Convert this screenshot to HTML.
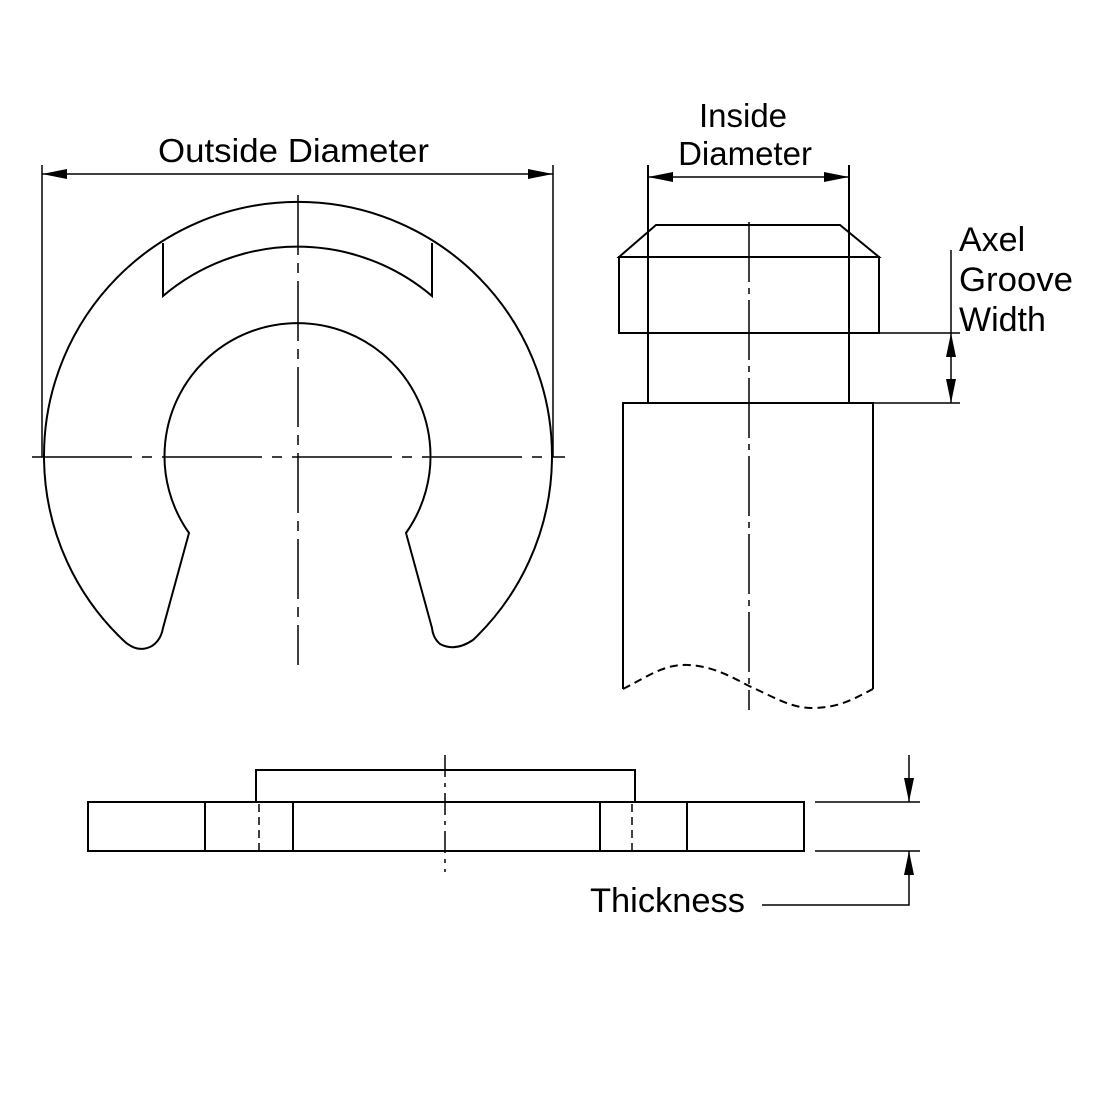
<!DOCTYPE html>
<html><head><meta charset="utf-8"><style>
html,body{margin:0;padding:0;background:#fff;}
svg{display:block;}
text{font-family:"Liberation Sans",sans-serif;fill:#000;}
</style></head><body>
<svg width="1100" height="1100" viewBox="0 0 1100 1100" xmlns="http://www.w3.org/2000/svg">
<g fill="none" stroke="#000" stroke-width="2">
<!-- E clip -->
<path d="M123,640 A254,254 0 1 1 473,640 Q455,652 440,644 Q433,638 432,628 L406,533 A133,133 0 1 0 189,533 L163,628 Q161,640 152,646 Q137,654 123,640 Z"/>
<path d="M163,243 L163,296 A208,208 0 0 1 432,296 L432,243"/>
<!-- centerlines -->
<path stroke-width="1.5" stroke-dasharray="100,10,10,10" d="M32,457 H565"/>
<path stroke-width="1.5" stroke-dasharray="60,8,10,8" d="M298,195 V665"/>
<!-- outside diameter dim -->
<path stroke-width="1.5" d="M42,165 V457 M553,165 V457 M42,174 H553"/>
<!-- shaft -->
<path d="M656,225 H840 L879,257 H619 Z M619,257 H879 V333 H619 Z"/>
<path d="M648,165 V403 M849,165 V403"/>
<path d="M623,689 V403 H873 V689"/>
<path stroke-dasharray="8,5" d="M623,689 C650,675 665,664 688,665 C712,666 730,676 749,686 C772,696 790,708 812,708 C840,708 855,698 873,689"/>
<path stroke-width="1.5" stroke-dasharray="60,6,6,6" d="M749,222 V710"/>
<path stroke-width="1.5" d="M648,177 H849"/>
<path stroke-width="1.5" d="M879,333 H960 M873,403 H960 M951,250 V403"/>
<!-- bottom view -->
<path d="M88,802 H804 V851 H88 Z M256,802 V770 H635 V802 M205,802 V851 M293,802 V851 M600,802 V851 M687,802 V851"/>
<path stroke-width="1.5" stroke-dasharray="8,5" d="M259,804 V850 M632,804 V850"/>
<path stroke-width="1.5" stroke-dasharray="22,6,4,6" d="M445,755 V872"/>
<path stroke-width="1.5" d="M815,802 H920 M815,851 H920 M909,755 V802 M909,851 V905 H762"/>
</g>
<g fill="#000" stroke="none">
<path d="M42,174 L67,169 L67,179 Z"/>
<path d="M553,174 L528,169 L528,179 Z"/>
<path d="M648,177 L673,172 L673,182 Z"/>
<path d="M849,177 L824,172 L824,182 Z"/>
<path d="M951,333 L946,357 L956,357 Z"/>
<path d="M951,403 L946,379 L956,379 Z"/>
<path d="M909,802 L904,778 L914,778 Z"/>
<path d="M909,851 L904,875 L914,875 Z"/>
</g>
<text x="158" y="162" font-size="33" textLength="271" lengthAdjust="spacingAndGlyphs">Outside Diameter</text>
<text x="743" y="127" font-size="33" text-anchor="middle">Inside</text>
<text x="745" y="165" font-size="33" text-anchor="middle">Diameter</text>
<text x="959" y="251" font-size="34">Axel</text>
<text x="959" y="291" font-size="34" textLength="114" lengthAdjust="spacingAndGlyphs">Groove</text>
<text x="959" y="331" font-size="34">Width</text>
<text x="590" y="912" font-size="34" textLength="155" lengthAdjust="spacingAndGlyphs">Thickness</text>
</svg>
</body></html>
